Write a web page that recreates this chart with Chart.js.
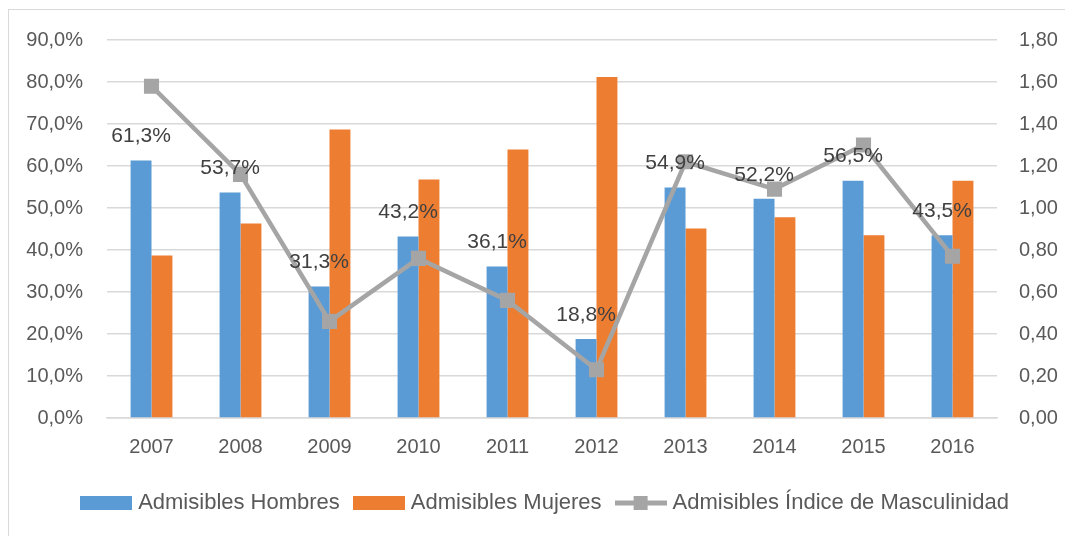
<!DOCTYPE html>
<html>
<head>
<meta charset="utf-8">
<script src="https://cdn.jsdelivr.net/npm/chart.js@4"></script>
<style>
html, body { margin: 0; padding: 0; background: #fff; overflow: hidden; }
#marco { position: absolute; left: 8px; top: 9px; width: 1200px; height: 700px; border: 1px solid #D9D9D9; }
#caja { position: absolute; left: 0; top: 0; }
</style>
</head>
<body>
<div id="marco"></div>
<div id="caja"><canvas id="grafica" width="1094" height="536"></canvas></div>
<script>
const anios = ['2007', '2008', '2009', '2010', '2011', '2012', '2013', '2014', '2015', '2016'];
const hombres = [61.3, 53.7, 31.3, 43.2, 36.1, 18.8, 54.9, 52.2, 56.5, 43.5];
const mujeres = [38.7, 46.3, 68.7, 56.8, 63.9, 81.2, 45.1, 47.8, 43.5, 56.5];
const indice = [1.58, 1.16, 0.46, 0.76, 0.56, 0.23, 1.22, 1.09, 1.30, 0.77];
const nombres = ['Admisibles Hombres', 'Admisibles Mujeres', 'Admisibles Índice de Masculinidad'];

const AZUL = '#5B9BD5', NARANJA = '#ED7D31', GRIS = '#A5A5A5', TEXTO = '#595959';
const FUENTE = 'Liberation Sans, Arial, sans-serif';

function pct(v) { return v.toFixed(1).replace('.', ',') + '%'; }

// muestras de la leyenda
function muestra(color, linea) {
    const c = document.createElement('canvas');
    c.width = 52; c.height = 16;
    const g = c.getContext('2d');
    g.fillStyle = color;
    if (linea) {
        g.fillRect(0, 5.5, 52, 5);
        g.fillRect(19, 1, 14, 14);
    } else {
        g.fillRect(0, 1, 52, 14);
    }
    return c;
}
const muestras = [muestra(AZUL, false), muestra(NARANJA, false), muestra(GRIS, true)];

const etiquetasBarras = {
    id: 'etiquetasBarras',
    afterDatasetsDraw(chart) {
        const ctx = chart.ctx;
        const meta = chart.getDatasetMeta(0);
        ctx.save();
        ctx.font = '21px ' + FUENTE;
        ctx.fillStyle = '#404040';
        ctx.textAlign = 'center';
        ctx.textBaseline = 'middle';
        meta.data.forEach((barra, i) => {
            ctx.fillText(pct(hombres[i]), barra.x, barra.y - 24);
        });
        ctx.restore();
    }
};

new Chart(document.getElementById('grafica'), {
    type: 'bar',
    data: {
        labels: anios,
        datasets: [
            { label: nombres[0], data: hombres, backgroundColor: AZUL, yAxisID: 'y', order: 1 },
            { label: nombres[1], data: mujeres, backgroundColor: NARANJA, yAxisID: 'y', order: 1 },
            {
                type: 'line', label: nombres[2], data: indice, yAxisID: 'y2', order: 0,
                borderColor: GRIS, backgroundColor: GRIS, borderWidth: 4.5, tension: 0,
                pointStyle: 'rect', pointRadius: 7.5, pointBackgroundColor: GRIS, pointBorderColor: GRIS
            }
        ]
    },
    options: {
        responsive: false,
        animation: false,
        layout: { padding: { top: 40, left: 0, right: 0, bottom: 12 } },
        datasets: { bar: { categoryPercentage: 0.47, barPercentage: 1 } },
        plugins: {
            tooltip: { enabled: false },
            legend: {
                position: 'bottom',
                labels: {
                    usePointStyle: true,
                    pointStyleWidth: 42,
                    padding: 18,
                    color: TEXTO,
                    font: { family: FUENTE, size: 22 },
                    generateLabels: () => nombres.map((n, i) => ({
                        text: n, pointStyle: muestras[i], datasetIndex: i,
                        fontColor: TEXTO, lineWidth: 0, strokeStyle: 'transparent', fillStyle: 'transparent'
                    }))
                }
            }
        },
        scales: {
            x: {
                grid: { display: false, drawTicks: false },
                border: { color: '#D9D9D9', width: 1.5 },
                ticks: { color: TEXTO, font: { family: FUENTE, size: 20 }, padding: 17 },
                afterFit: s => { s.height = 56; }
            },
            y: {
                position: 'left', min: 0, max: 90,
                grid: { color: '#D9D9D9', lineWidth: 1.5, drawTicks: false },
                border: { display: false },
                ticks: { stepSize: 10, color: TEXTO, font: { family: FUENTE, size: 20 }, padding: 24, callback: v => pct(v) },
                afterFit: s => { s.width = 107; }
            },
            y2: {
                position: 'right', min: 0, max: 1.8,
                grid: { display: false, drawTicks: false },
                border: { display: false },
                ticks: { stepSize: 0.2, color: TEXTO, font: { family: FUENTE, size: 20 }, padding: 22, callback: v => v.toFixed(2).replace('.', ',') },
                afterFit: s => { s.width = 97; }
            }
        }
    },
    plugins: [etiquetasBarras]
});
</script>
</body>
</html>
